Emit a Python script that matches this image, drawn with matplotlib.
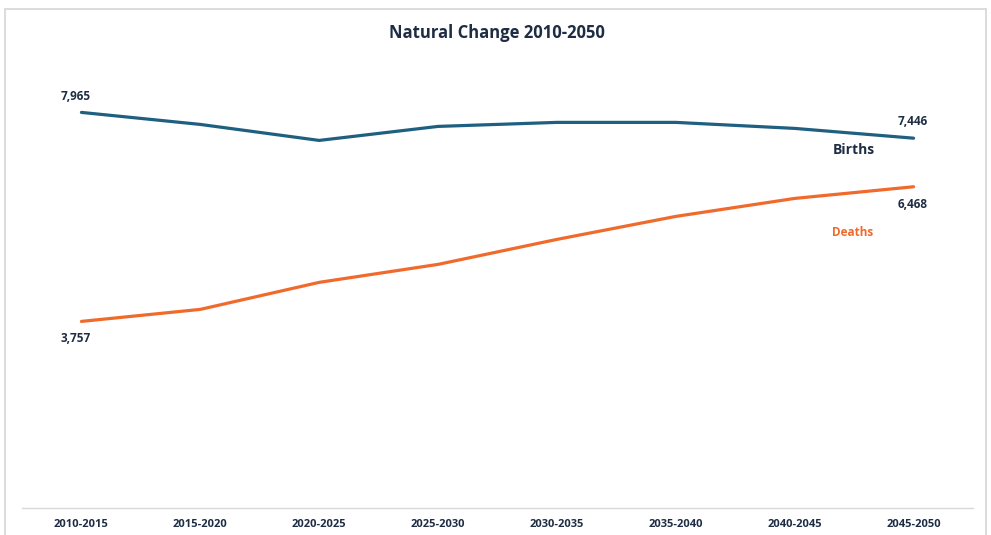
import matplotlib
matplotlib.use("Agg")
import matplotlib.pyplot as plt
from matplotlib.patches import Rectangle

plt.rcParams["font.family"] = ["Open Sans", "DejaVu Sans"]

periods = ["2010-2015", "2015-2020", "2020-2025", "2025-2030",
           "2030-2035", "2035-2040", "2040-2045", "2045-2050"]
births = [7965, 7723, 7401, 7683, 7764, 7764, 7643, 7446]
deaths = [3757, 3999, 4543, 4905, 5408, 5871, 6233, 6468]

BIRTH_COLOR = "#1f5f80"
DEATH_COLOR = "#f06a2c"
TEXT_COLOR = "#1e2d44"

fig = plt.figure(figsize=(9.91, 5.35), dpi=100)
W, H = 991, 535

# light frame around the chart
fig.patches.append(Rectangle((5 / W, -0.01), 981 / W, (H - 9) / H + 0.01,
                             transform=fig.transFigure, facecolor="white",
                             edgecolor="#d6d6d6", linewidth=1.2, zorder=-1))

ax = fig.add_axes([22 / W, (H - 508) / H, 951 / W, 447 / H])
ax.set_facecolor("none")
ax.set_zorder(2)

x = list(range(len(periods)))
ax.plot(x, births, color=BIRTH_COLOR, linewidth=2.3, solid_capstyle="round")
ax.plot(x, deaths, color=DEATH_COLOR, linewidth=2.3, solid_capstyle="round")

ax.set_xlim(-0.5, len(periods) - 0.5)
ax.set_ylim(0, 9000)
ax.set_xticks(x)
ax.set_xticklabels(periods, fontsize=8, fontweight="bold", color=TEXT_COLOR)
ax.set_yticks([])
ax.tick_params(axis="x", length=0, pad=8)
for s in ["top", "right", "left"]:
    ax.spines[s].set_visible(False)
ax.spines["bottom"].set_color("#d9d9d9")
ax.spines["bottom"].set_linewidth(1)

lab = dict(textcoords="offset pixels", ha="center", va="center",
           fontsize=8.5, fontweight="bold", color=TEXT_COLOR)
ax.annotate(f"{births[0]:,}", (x[0], births[0]), xytext=(-6, 16), **lab)
ax.annotate(f"{deaths[0]:,}", (x[0], deaths[0]), xytext=(-6, -17), **lab)
ax.annotate(f"{births[-1]:,}", (x[-1], births[-1]), xytext=(-1, 17), **lab)
ax.annotate(f"{deaths[-1]:,}", (x[-1], deaths[-1]), xytext=(-1, -18), **lab)

ax.annotate("Births", (x[-1], births[-1]), xytext=(-60, -12),
            textcoords="offset pixels", ha="center", va="center",
            fontsize=10, fontweight="bold", color=TEXT_COLOR)
ax.annotate("Deaths", (x[-1], deaths[-1]), xytext=(-61, -46),
            textcoords="offset pixels", ha="center", va="center",
            fontsize=8.5, fontweight="bold", color=DEATH_COLOR)

fig.text(497 / W, 1 - 33 / H, "Natural Change 2010-2050", ha="center",
         va="center", fontsize=12, fontweight="bold", color=TEXT_COLOR)

fig.savefig("out.png", dpi=100)
